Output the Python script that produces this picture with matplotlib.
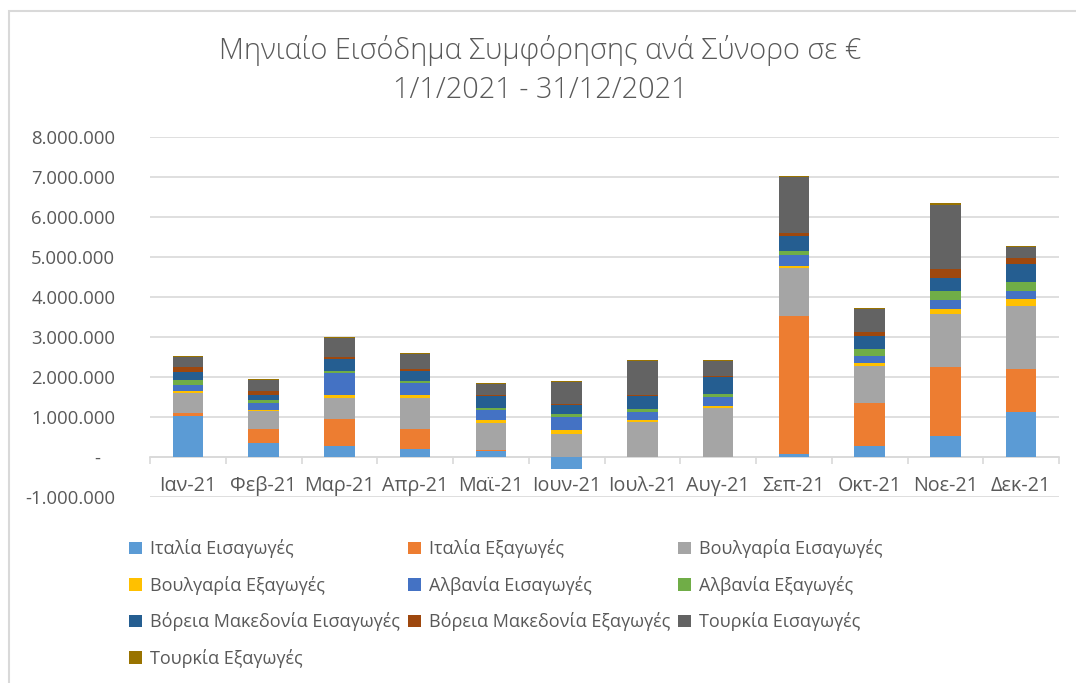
import matplotlib
matplotlib.use('Agg')
import matplotlib.pyplot as plt
from matplotlib.patches import Rectangle
from matplotlib.ticker import FuncFormatter, MultipleLocator
import numpy as np

plt.rcParams['font.family'] = ['Open Sans', 'DejaVu Sans']

months = ['Ιαν-21', 'Φεβ-21', 'Μαρ-21', 'Απρ-21', 'Μαϊ-21', 'Ιουν-21',
          'Ιουλ-21', 'Αυγ-21', 'Σεπ-21', 'Οκτ-21', 'Νοε-21', 'Δεκ-21']

# values in millions of euro
italy_imp = [1.02, 0.35, 0.27, 0.20, 0.14, -0.30, 0.0, 0.0, 0.07, 0.27, 0.52, 1.13]
italy_exp = [0.08, 0.36, 0.67, 0.51, 0.04, 0.0, 0.0, 0.0, 3.45, 1.09, 1.72, 1.06]
bulg_imp = [0.49, 0.44, 0.54, 0.77, 0.67, 0.58, 0.875, 1.22, 1.20, 0.92, 1.33, 1.58]
bulg_exp = [0.05, 0.03, 0.06, 0.06, 0.08, 0.10, 0.06, 0.05, 0.05, 0.06, 0.14, 0.19]
alb_imp = [0.17, 0.17, 0.56, 0.32, 0.25, 0.32, 0.20, 0.22, 0.27, 0.19, 0.22, 0.20]
alb_exp = [0.12, 0.08, 0.05, 0.05, 0.05, 0.08, 0.06, 0.08, 0.10, 0.17, 0.22, 0.22]
nmac_imp = [0.19, 0.13, 0.30, 0.23, 0.29, 0.21, 0.33, 0.42, 0.39, 0.33, 0.33, 0.45]
nmac_exp = [0.12, 0.08, 0.04, 0.05, 0.03, 0.03, 0.03, 0.03, 0.06, 0.09, 0.23, 0.14]
turk_imp = [0.27, 0.28, 0.48, 0.38, 0.28, 0.55, 0.84, 0.37, 1.40, 0.57, 1.60, 0.27]
turk_exp = [0.02, 0.02, 0.03, 0.03, 0.02, 0.02, 0.03, 0.03, 0.03, 0.03, 0.03, 0.03]

series = [
    ('Ιταλία Εισαγωγές', italy_imp, '#5B9BD5'),
    ('Ιταλία Εξαγωγές', italy_exp, '#ED7D31'),
    ('Βουλγαρία Εισαγωγές', bulg_imp, '#A5A5A5'),
    ('Βουλγαρία Εξαγωγές', bulg_exp, '#FFC000'),
    ('Αλβανία Εισαγωγές', alb_imp, '#4472C4'),
    ('Αλβανία Εξαγωγές', alb_exp, '#70AD47'),
    ('Βόρεια Μακεδονία Εισαγωγές', nmac_imp, '#255E91'),
    ('Βόρεια Μακεδονία Εξαγωγές', nmac_exp, '#9E480E'),
    ('Τουρκία Εισαγωγές', turk_imp, '#636363'),
    ('Τουρκία Εξαγωγές', turk_exp, '#997300'),
]

text_col = '#595959'
grid_col = '#D9D9D9'

fig = plt.figure(figsize=(10.76, 6.83), dpi=100)
ax = fig.add_axes([150 / 1076, 1 - 497 / 683, 909 / 1076, 360 / 683])

x = np.arange(len(months))
pos_bottom = np.zeros(len(months))
neg_bottom = np.zeros(len(months))
handles = []
for name, vals, col in series:
    v = np.array(vals) * 1e6
    bottom = np.where(v >= 0, pos_bottom, neg_bottom)
    h = ax.bar(x, v, 0.4, bottom=bottom, color=col, label=name, zorder=3,
               edgecolor='none')
    handles.append(h)
    pos_bottom += np.where(v >= 0, v, 0)
    neg_bottom += np.where(v < 0, v, 0)

ax.set_xlim(-0.5, len(months) - 0.5)
ax.set_ylim(-1e6, 8e6)
ax.yaxis.set_major_locator(MultipleLocator(1e6))


def fmt(val, pos):
    if abs(val) < 1:
        return '-   '
    return f'{val:,.0f}'.replace(',', '.')


ax.yaxis.set_major_formatter(FuncFormatter(fmt))
ax.grid(axis='y', color=grid_col, linewidth=1.2, zorder=0)
ax.tick_params(axis='y', length=0, pad=25, labelsize=13.3, labelcolor=text_col)

for s in ['left', 'right', 'top']:
    ax.spines[s].set_visible(False)
ax.spines['bottom'].set_position(('data', 0))
ax.spines['bottom'].set_color(grid_col)
ax.spines['bottom'].set_linewidth(1.2)
ax.spines['bottom'].set_zorder(2)

ax.set_xticks(x)
ax.set_xticklabels(months)
ax.set_xticks(np.arange(-0.5, len(months)), minor=True)
ax.tick_params(axis='x', which='major', length=0, pad=14, labelsize=14.2,
               labelcolor=text_col)
ax.tick_params(axis='x', which='minor', length=5, width=1.2, color=grid_col)

fig.text(0.502, 1 - 50 / 683, 'Μηνιαίο Εισόδημα Συμφόρησης ανά Σύνορο σε €',
         ha='center', va='center', fontsize=20.8, color=text_col,
         fontweight='light')
fig.text(0.502, 1 - 90 / 683, '1/1/2021 - 31/12/2021',
         ha='center', va='center', fontsize=20.8, color=text_col,
         fontweight='light')

# legend, Excel fills row by row; matplotlib fills column by column
order = [0, 3, 6, 9, 1, 4, 7, 2, 5, 8]
leg = fig.legend([handles[i] for i in order], [series[i][0] for i in order],
                 ncol=3, loc='upper left', bbox_to_anchor=(113 / 1076, 1 - 523 / 683),
                 frameon=False, fontsize=13, handlelength=0.7, handleheight=0.7,
                 handletextpad=0.45, columnspacing=0.45, labelspacing=0.97,
                 labelcolor=text_col)

# chart frame
fig.patches.append(Rectangle((9 / 1076, -0.1), 1.2, 1 - 11 / 683 + 0.1,
                             transform=fig.transFigure, fill=False,
                             edgecolor=grid_col, linewidth=1.5))

fig.savefig('out.png', dpi=100)
